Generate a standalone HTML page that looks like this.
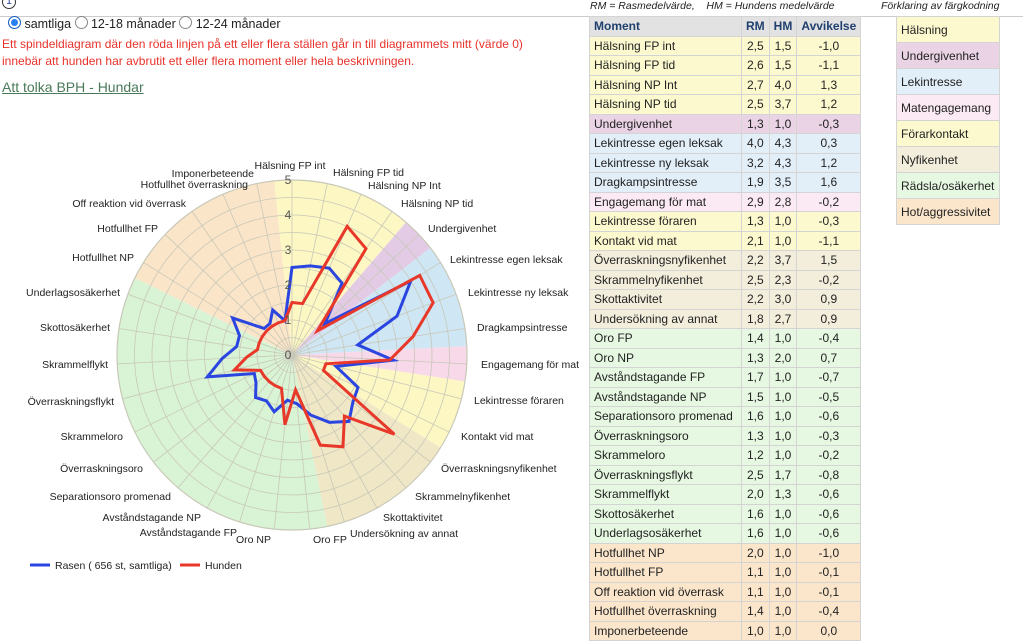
<!DOCTYPE html>
<html><head><meta charset="utf-8">
<style>
body{margin:0;width:1023px;height:641px;overflow:hidden;background:#fff;font-family:"Liberation Sans",sans-serif;position:relative}
.abs{position:absolute;white-space:nowrap}
table.t{position:absolute;left:589px;top:16px;border-collapse:separate;border-spacing:1px;background:#d4d4d4;font-size:12px;color:#222}
table.t td,table.t th{height:18.5px;padding:0 4px;line-height:18.5px}
table.t th{background:#e2e2e2;color:#1f3f6e;font-weight:bold;text-align:left}
table.t td.n{text-align:center;padding:0 2px}
.h td{background:#fdf9cf}.u td{background:#ebd3e6}.l td{background:#e2eef8}.m td{background:#fbeaf4}.f td{background:#fdf9cf}.y td{background:#f3eddb}.r td{background:#e6f8e2}.o td{background:#fbe6cc}
table.lg{position:absolute;left:896px;top:16px;border-collapse:separate;border-spacing:1px;background:#d4d4d4;font-size:12px;color:#222}
table.lg td{height:25px;width:94px;padding:0 4px}
</style></head><body>
<div class="abs" style="left:2px;top:-5px;width:12px;height:12px;border:1px solid #333;border-radius:50%;font-size:10px;text-align:center;line-height:12px;color:#1a3a9a">1</div>
<div class="abs" style="left:590px;top:0px;font-size:10.5px;font-style:italic;color:#222">RM = Rasmedelvärde,&nbsp;&nbsp;&nbsp; HM = Hundens medelvärde</div>
<div class="abs" style="left:881px;top:0px;font-size:10.5px;font-style:italic;color:#222">Förklaring av färgkodning</div>
<div class="abs" style="left:0;top:16px;width:1023px;height:1px;background:#ccc"></div>
<div class="abs" style="left:8px;top:16px;font-size:12.5px;color:#222;line-height:16px">
<span style="display:inline-block;width:11px;height:11px;border-radius:50%;background:#2a7ff0;border:1px solid #1a60c0;vertical-align:-1px;box-shadow:inset 0 0 0 2px #fff;"></span> samtliga
<span style="display:inline-block;width:11px;height:11px;border-radius:50%;border:1px solid #888;vertical-align:-1px"></span> 12-18 månader
<span style="display:inline-block;width:11px;height:11px;border-radius:50%;border:1px solid #888;vertical-align:-1px"></span> 12-24 månader</div>
<div class="abs" style="left:2px;top:36px;font-size:12px;color:#e8322a;line-height:17px">Ett spindeldiagram där den röda linjen på ett eller flera ställen går in till diagrammets mitt (värde 0)<br>innebär att hunden har avbrutit ett eller flera moment eller hela beskrivningen.</div>
<div class="abs" style="left:2px;top:79px;font-size:14px;color:#4a7a5a;text-decoration:underline">Att tolka BPH - Hundar</div>

<svg class="abs" style="left:0;top:0" width="585" height="641" id="s">
<g id="bg"></g>
<g font-size="10.5" fill="#222" font-family="Liberation Sans,sans-serif">
<text x="290" y="169" text-anchor="middle">Hälsning FP int</text>
<text x="333" y="176">Hälsning FP tid</text>
<text x="368" y="189">Hälsning NP Int</text>
<text x="401" y="207">Hälsning NP tid</text>
<text x="428" y="232">Undergivenhet</text>
<text x="450" y="263">Lekintresse egen leksak</text>
<text x="468" y="296">Lekintresse ny leksak</text>
<text x="477" y="331">Dragkampsintresse</text>
<text x="481" y="368">Engagemang för mat</text>
<text x="474" y="404">Lekintresse föraren</text>
<text x="461" y="440">Kontakt vid mat</text>
<text x="441" y="472">Överraskningsnyfikenhet</text>
<text x="415" y="500">Skrammelnyfikenhet</text>
<text x="383" y="521">Skottaktivitet</text>
<text x="350" y="537">Undersökning av annat</text>
<text x="313" y="543">Oro FP</text>
<text x="271" y="543" text-anchor="end">Oro NP</text>
<text x="237" y="536" text-anchor="end">Avståndstagande FP</text>
<text x="201" y="521" text-anchor="end">Avståndstagande NP</text>
<text x="171" y="500" text-anchor="end">Separationsoro promenad</text>
<text x="143" y="472" text-anchor="end">Överraskningsoro</text>
<text x="123" y="440" text-anchor="end">Skrammeloro</text>
<text x="114" y="405" text-anchor="end">Överraskningsflykt</text>
<text x="108" y="368" text-anchor="end">Skrammelflykt</text>
<text x="110" y="331" text-anchor="end">Skottosäkerhet</text>
<text x="120" y="296" text-anchor="end">Underlagsosäkerhet</text>
<text x="134" y="261" text-anchor="end">Hotfullhet NP</text>
<text x="158" y="232" text-anchor="end">Hotfullhet FP</text>
<text x="186" y="207" text-anchor="end">Off reaktion vid överrask</text>
<text x="248" y="188" text-anchor="end">Hotfullhet överraskning</text>
<text x="254" y="177" text-anchor="end">Imponerbeteende</text>
</g>
<g font-size="12" fill="#555" text-anchor="middle">
<text x="288" y="184">5</text><text x="288" y="219">4</text><text x="288" y="254">3</text><text x="288" y="289">2</text><text x="288" y="324">1</text><text x="288" y="359">0</text>
</g>
<line x1="30" y1="565" x2="50" y2="565" stroke="#2a45e0" stroke-width="3"/>
<text x="55" y="569" font-size="10.5" fill="#222">Rasen ( 656 st, samtliga)</text>
<line x1="180" y1="565" x2="200" y2="565" stroke="#e8382a" stroke-width="3"/>
<text x="205" y="569" font-size="10.5" fill="#222">Hunden</text>
</svg>
<script>
(function(){
var cx=292,cy=355,R=175,n=31,st=2*Math.PI/n,ns="http://www.w3.org/2000/svg",g=document.getElementById('bg');
function P(r,a){return [cx+r*Math.sin(a),cy-r*Math.cos(a)];}
function add(tag,at){var e=document.createElementNS(ns,tag);for(var k in at)e.setAttribute(k,at[k]);g.appendChild(e);return e;}
var grp=[[0,3,'#fdf7c3'],[4,4,'#e3cbe6'],[5,7,'#cfe6f4'],[8,8,'#f7d9ea'],[9,10,'#fdf7c3'],[11,14,'#f0e7c6'],[15,25,'#d9f3d5'],[26,30,'#fbe5c8']];
grp.forEach(function(q){var a1=(q[0]-0.5)*st,a2=(q[1]+0.5)*st,p1=P(R,a1),p2=P(R,a2);
add('path',{d:'M'+cx+','+cy+'L'+p1+'A'+R+','+R+' 0 0 1 '+p2+'Z',fill:q[2]});});
for(var k=1;k<=10;k++)add('circle',{cx:cx,cy:cy,r:R*k/10,fill:'none',stroke:'#c8c8b8','stroke-width':k==10?1.2:0.8});
for(var i=0;i<n;i++){var p=P(R,i*st);add('line',{x1:cx,y1:cy,x2:p[0],y2:p[1],stroke:'#c8c8b8','stroke-width':0.8});}
var rm=[2.5,2.6,2.7,2.5,1.3,4.0,3.2,1.9,2.9,1.3,2.1,2.2,2.5,2.2,1.8,1.4,1.3,1.7,1.5,1.6,1.3,1.2,2.5,2.0,1.6,1.6,2.0,1.1,1.1,1.4,1.0];
var hm=[1.5,1.5,4.0,3.7,1.0,4.3,4.3,3.5,2.8,1.0,1.0,3.7,2.3,3.0,2.7,1.0,2.0,1.0,1.0,1.0,1.0,1.0,1.7,1.3,1.0,1.0,1.0,1.0,1.0,1.0,1.0];
[[rm,'#2a45e0'],[hm,'#e8382a']].forEach(function(s){var pts=s[0].map(function(v,i){return P(v*R/5,i*st).join(',');}).join(' ');
add('polygon',{points:pts,fill:'none',stroke:s[1],'stroke-width':3,'stroke-linejoin':'miter'});});
})();
</script>

<table class="t">
<tr><th style="width:143px">Moment</th><th>RM</th><th>HM</th><th>Avvikelse</th></tr>
<tr class="h"><td>Hälsning FP int</td><td class="n">2,5</td><td class="n">1,5</td><td class="n">-1,0</td></tr>
<tr class="h"><td>Hälsning FP tid</td><td class="n">2,6</td><td class="n">1,5</td><td class="n">-1,1</td></tr>
<tr class="h"><td>Hälsning NP Int</td><td class="n">2,7</td><td class="n">4,0</td><td class="n">1,3</td></tr>
<tr class="h"><td>Hälsning NP tid</td><td class="n">2,5</td><td class="n">3,7</td><td class="n">1,2</td></tr>
<tr class="u"><td>Undergivenhet</td><td class="n">1,3</td><td class="n">1,0</td><td class="n">-0,3</td></tr>
<tr class="l"><td>Lekintresse egen leksak</td><td class="n">4,0</td><td class="n">4,3</td><td class="n">0,3</td></tr>
<tr class="l"><td>Lekintresse ny leksak</td><td class="n">3,2</td><td class="n">4,3</td><td class="n">1,2</td></tr>
<tr class="l"><td>Dragkampsintresse</td><td class="n">1,9</td><td class="n">3,5</td><td class="n">1,6</td></tr>
<tr class="m"><td>Engagemang för mat</td><td class="n">2,9</td><td class="n">2,8</td><td class="n">-0,2</td></tr>
<tr class="f"><td>Lekintresse föraren</td><td class="n">1,3</td><td class="n">1,0</td><td class="n">-0,3</td></tr>
<tr class="f"><td>Kontakt vid mat</td><td class="n">2,1</td><td class="n">1,0</td><td class="n">-1,1</td></tr>
<tr class="y"><td>Överraskningsnyfikenhet</td><td class="n">2,2</td><td class="n">3,7</td><td class="n">1,5</td></tr>
<tr class="y"><td>Skrammelnyfikenhet</td><td class="n">2,5</td><td class="n">2,3</td><td class="n">-0,2</td></tr>
<tr class="y"><td>Skottaktivitet</td><td class="n">2,2</td><td class="n">3,0</td><td class="n">0,9</td></tr>
<tr class="y"><td>Undersökning av annat</td><td class="n">1,8</td><td class="n">2,7</td><td class="n">0,9</td></tr>
<tr class="r"><td>Oro FP</td><td class="n">1,4</td><td class="n">1,0</td><td class="n">-0,4</td></tr>
<tr class="r"><td>Oro NP</td><td class="n">1,3</td><td class="n">2,0</td><td class="n">0,7</td></tr>
<tr class="r"><td>Avståndstagande FP</td><td class="n">1,7</td><td class="n">1,0</td><td class="n">-0,7</td></tr>
<tr class="r"><td>Avståndstagande NP</td><td class="n">1,5</td><td class="n">1,0</td><td class="n">-0,5</td></tr>
<tr class="r"><td>Separationsoro promenad</td><td class="n">1,6</td><td class="n">1,0</td><td class="n">-0,6</td></tr>
<tr class="r"><td>Överraskningsoro</td><td class="n">1,3</td><td class="n">1,0</td><td class="n">-0,3</td></tr>
<tr class="r"><td>Skrammeloro</td><td class="n">1,2</td><td class="n">1,0</td><td class="n">-0,2</td></tr>
<tr class="r"><td>Överraskningsflykt</td><td class="n">2,5</td><td class="n">1,7</td><td class="n">-0,8</td></tr>
<tr class="r"><td>Skrammelflykt</td><td class="n">2,0</td><td class="n">1,3</td><td class="n">-0,6</td></tr>
<tr class="r"><td>Skottosäkerhet</td><td class="n">1,6</td><td class="n">1,0</td><td class="n">-0,6</td></tr>
<tr class="r"><td>Underlagsosäkerhet</td><td class="n">1,6</td><td class="n">1,0</td><td class="n">-0,6</td></tr>
<tr class="o"><td>Hotfullhet NP</td><td class="n">2,0</td><td class="n">1,0</td><td class="n">-1,0</td></tr>
<tr class="o"><td>Hotfullhet FP</td><td class="n">1,1</td><td class="n">1,0</td><td class="n">-0,1</td></tr>
<tr class="o"><td>Off reaktion vid överrask</td><td class="n">1,1</td><td class="n">1,0</td><td class="n">-0,1</td></tr>
<tr class="o"><td>Hotfullhet överraskning</td><td class="n">1,4</td><td class="n">1,0</td><td class="n">-0,4</td></tr>
<tr class="o"><td>Imponerbeteende</td><td class="n">1,0</td><td class="n">1,0</td><td class="n">0,0</td></tr>
</table>

<table class="lg">
<tr class="h"><td>Hälsning</td></tr>
<tr class="u"><td>Undergivenhet</td></tr>
<tr class="l"><td>Lekintresse</td></tr>
<tr class="m"><td>Matengagemang</td></tr>
<tr class="f"><td>Förarkontakt</td></tr>
<tr class="y"><td>Nyfikenhet</td></tr>
<tr class="r"><td>Rädsla/osäkerhet</td></tr>
<tr class="o"><td>Hot/aggressivitet</td></tr>
</table>
</body></html>
